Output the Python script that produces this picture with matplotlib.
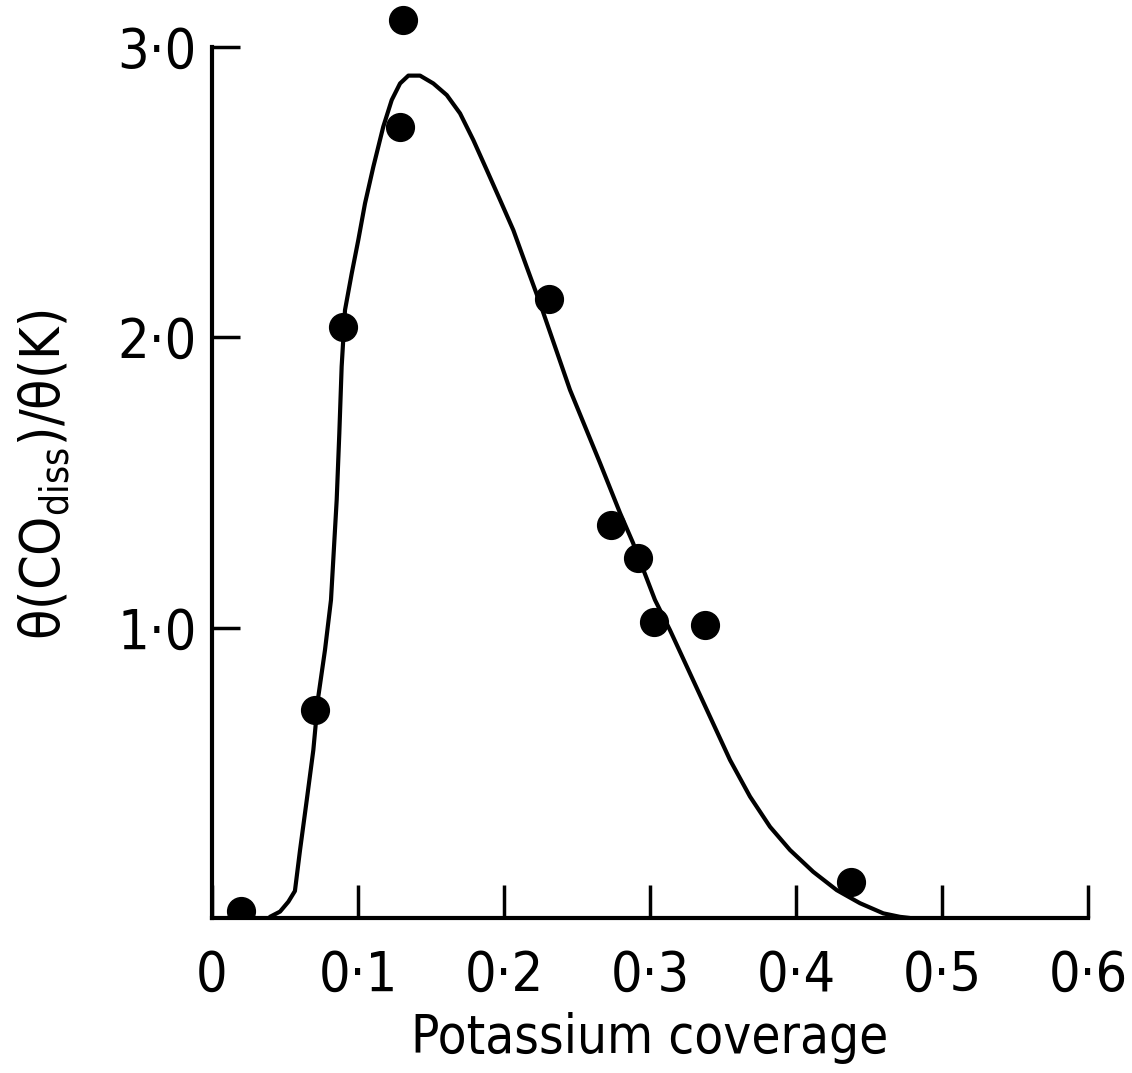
import numpy as np
import matplotlib
matplotlib.use('Agg')
import matplotlib.pyplot as plt

plt.rcParams['font.family'] = ['Liberation Sans Narrow', 'DejaVu Sans']
plt.rcParams['font.stretch'] = 'condensed'
plt.rcParams['mathtext.fontset'] = 'custom'
plt.rcParams['mathtext.rm'] = 'DejaVu Sans:stretch=condensed'

### measured points
k_cov = [0.020, 0.0705, 0.090, 0.129, 0.131, 0.231, 0.273, 0.292, 0.303, 0.338, 0.438]
ratio = [0.025, 0.716, 2.033, 2.724, 3.091, 2.130, 1.354, 1.240, 1.020, 1.007, 0.124]

### fitted curve
curve_x = [0.0397, 0.0466, 0.0523, 0.0568, 0.0603, 0.0649, 0.0694, 0.0728, 0.0774, 0.0815,
           0.0854, 0.0872, 0.0888, 0.0911, 0.0957, 0.1002, 0.1048, 0.1105, 0.1173, 0.1231,
           0.1288, 0.1345, 0.1425, 0.1516, 0.1608, 0.1699, 0.1790, 0.1882, 0.1973, 0.2064,
           0.2155, 0.2247, 0.2452, 0.2658, 0.2795, 0.2884, 0.3034, 0.3137, 0.3274, 0.3411,
           0.3548, 0.3685, 0.3822, 0.3959, 0.4118, 0.4279, 0.4438, 0.4598, 0.4712, 0.478]
curve_y = [0.004, 0.022, 0.056, 0.093, 0.234, 0.406, 0.578, 0.762, 0.923, 1.095,
           1.439, 1.668, 1.898, 2.093, 2.219, 2.334, 2.460, 2.586, 2.724, 2.816,
           2.873, 2.900, 2.900, 2.873, 2.833, 2.770, 2.678, 2.575, 2.472, 2.368,
           2.242, 2.116, 1.818, 1.566, 1.394, 1.291, 1.095, 0.991, 0.842, 0.693,
           0.544, 0.418, 0.314, 0.234, 0.159, 0.096, 0.051, 0.016, 0.004, 0.0]

xticks = [0, 0.1, 0.2, 0.3, 0.4, 0.5, 0.6]
xtick_labels = ['0', '0·1', '0·2', '0·3', '0·4', '0·5', '0·6']
yticks = [1.0, 2.0, 3.0]
ytick_labels = ['1·0', '2·0', '3·0']

fig = plt.figure(figsize=(11.32, 10.73), dpi=100)
ax = fig.add_axes([212/1132, 1-918/1073, 876/1132, 915/1073])

ax.plot(curve_x, curve_y, color='black', lw=3.0, solid_joinstyle='round', solid_capstyle='round')
ax.plot(k_cov, ratio, 'o', color='black', ms=20, clip_on=True)
# top point sticks out above the axis end
ax.set_xlim(0, 0.6)
ax.set_ylim(0, 3.15)

for s in ['top', 'right']:
    ax.spines[s].set_visible(False)
ax.spines['left'].set_bounds(0, 3.0)
ax.spines['left'].set_linewidth(3)
ax.spines['bottom'].set_linewidth(3)

ax.set_xticks(xticks)
ax.set_xticklabels(xtick_labels)
ax.set_yticks(yticks)
ax.set_yticklabels(ytick_labels)
ax.tick_params(axis='x', direction='in', length=24, width=2.5, pad=22, labelsize=40)
ax.tick_params(axis='y', direction='in', length=20, width=2.5, pad=11, labelsize=40)

ax.set_xlabel('Potassium coverage', fontsize=38)
ax.xaxis.set_label_coords(0.5, -0.103)
ax.set_ylabel('θ(CO$_{\\mathrm{diss}}$)/θ(K)', fontsize=40)
ax.yaxis.set_label_coords(-0.160, 0.485)

fig.savefig('out.png', dpi=100)
